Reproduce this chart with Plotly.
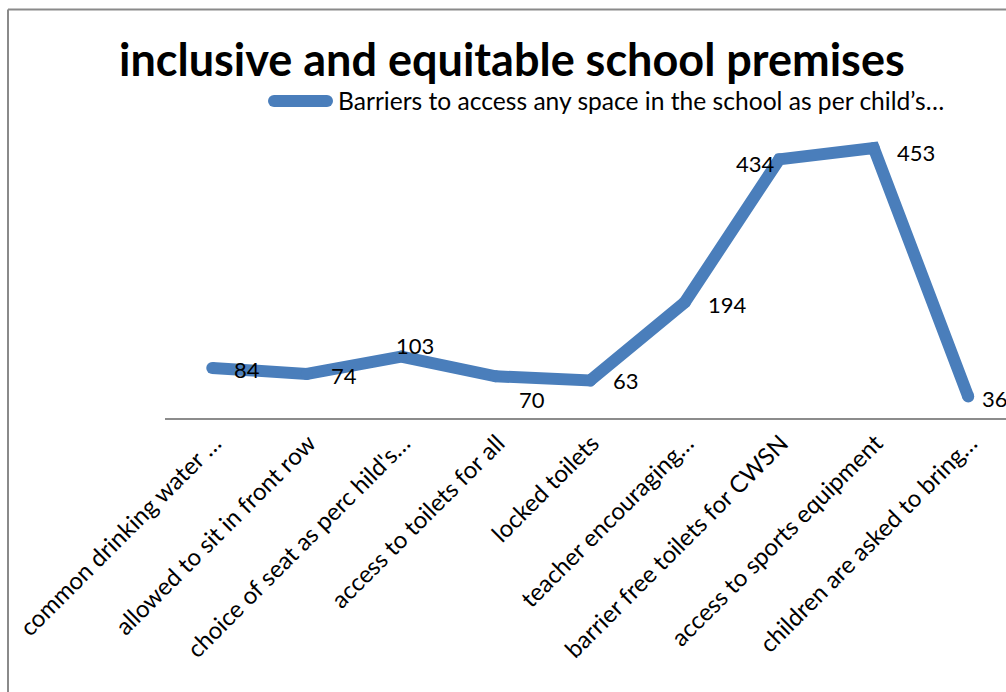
import plotly.graph_objects as go

categories = [
    "common drinking water …",
    "allowed to sit in front row",
    "choice of seat as perc hild's…",
    "access to toilets for all",
    "locked toilets",
    "teacher encouraging…",
    "barrier free toilets for CWSN",
    "access to sports equipment",
    "children are asked to bring…",
]
values = [84, 74, 103, 70, 63, 194, 434, 453, 36]
series_name = "Barriers to access any space in the school as per child’s…"
title_text = "inclusive and equitable school premises"

# label offsets in pixels (style)
label_dx = [35, 37, 14, 36, 36, 43, -24, 42, 27]
label_dy = [-2, -2, 11, -23, 0, -2, -4, -4, -2]

BLUE = "#4A7EBB"
W, H = 1006, 692
ML, MR, MT, MB = 165, 0, 120, 274
plot_w = W - ML - MR
plot_h = H - MT - MB
step = 94.5
LW = 12

fig = go.Figure()
fig.add_trace(go.Scatter(
    x=list(range(len(categories))), y=values, mode="lines+markers",
    line=dict(color=BLUE, width=LW),
    marker=dict(color=BLUE, size=LW),
    name=series_name, showlegend=False, cliponaxis=False,
))

for i, v in enumerate(values):
    fig.add_annotation(x=i, y=v, xref="x", yref="y", text=str(v), showarrow=False,
                       xshift=label_dx[i], yshift=label_dy[i],
                       font=dict(family="Lato", size=22, color="black"))

def px_to_paper_x(px):
    return (px - ML) / plot_w

def px_to_paper_y(py):
    return (H - MB - py) / plot_h

# legend (manual)
fig.add_shape(type="line", xref="paper", yref="paper",
              x0=px_to_paper_x(274), x1=px_to_paper_x(327),
              y0=px_to_paper_y(101), y1=px_to_paper_y(101),
              line=dict(color=BLUE, width=LW))
for px in (274, 327):
    fig.add_shape(type="circle", xref="paper", yref="paper", xsizemode="pixel", ysizemode="pixel",
                  xanchor=px_to_paper_x(px), yanchor=px_to_paper_y(101),
                  x0=-LW / 2, x1=LW / 2, y0=-LW / 2, y1=LW / 2,
                  fillcolor=BLUE, line=dict(width=0))
fig.add_annotation(xref="paper", yref="paper", x=px_to_paper_x(336), y=px_to_paper_y(101),
                   xanchor="left", yanchor="middle", showarrow=False, text=series_name,
                   font=dict(family="Lato", size=24.6, color="black"))

# title
fig.add_annotation(xref="paper", yref="paper", x=px_to_paper_x(512), y=px_to_paper_y(59),
                   xanchor="center", yanchor="middle", showarrow=False, text="<b>" + title_text + "</b>",
                   font=dict(family="Lato", size=45, color="black"))

# chart border (left and top)
border = dict(color="#8a8a8a", width=2)
fig.add_shape(type="line", xref="paper", yref="paper",
              x0=px_to_paper_x(8), x1=px_to_paper_x(1010),
              y0=px_to_paper_y(9.5), y1=px_to_paper_y(9.5), line=border)
fig.add_shape(type="line", xref="paper", yref="paper",
              x0=px_to_paper_x(8), x1=px_to_paper_x(8),
              y0=px_to_paper_y(9.5), y1=px_to_paper_y(700), line=border)

fig.update_layout(
    width=W, height=H,
    margin=dict(l=ML, r=MR, t=MT, b=MB, pad=0),
    paper_bgcolor="white", plot_bgcolor="white",
    showlegend=False,
    xaxis=dict(
        range=[-0.5, -0.5 + plot_w / step],
        tickmode="array", tickvals=list(range(len(categories))), ticktext=categories,
        tickangle=-45, showgrid=False, zeroline=False,
        showline=True, linecolor="#8c8c8c", linewidth=1.5,
        ticks="", tickfont=dict(family="Lato", size=24, color="black"),
        ticklabelshift=2, ticklabelstandoff=0,
    ),
    yaxis=dict(range=[0, 500], visible=False, showgrid=False, zeroline=False),
)

fig.write_html("out.html")
